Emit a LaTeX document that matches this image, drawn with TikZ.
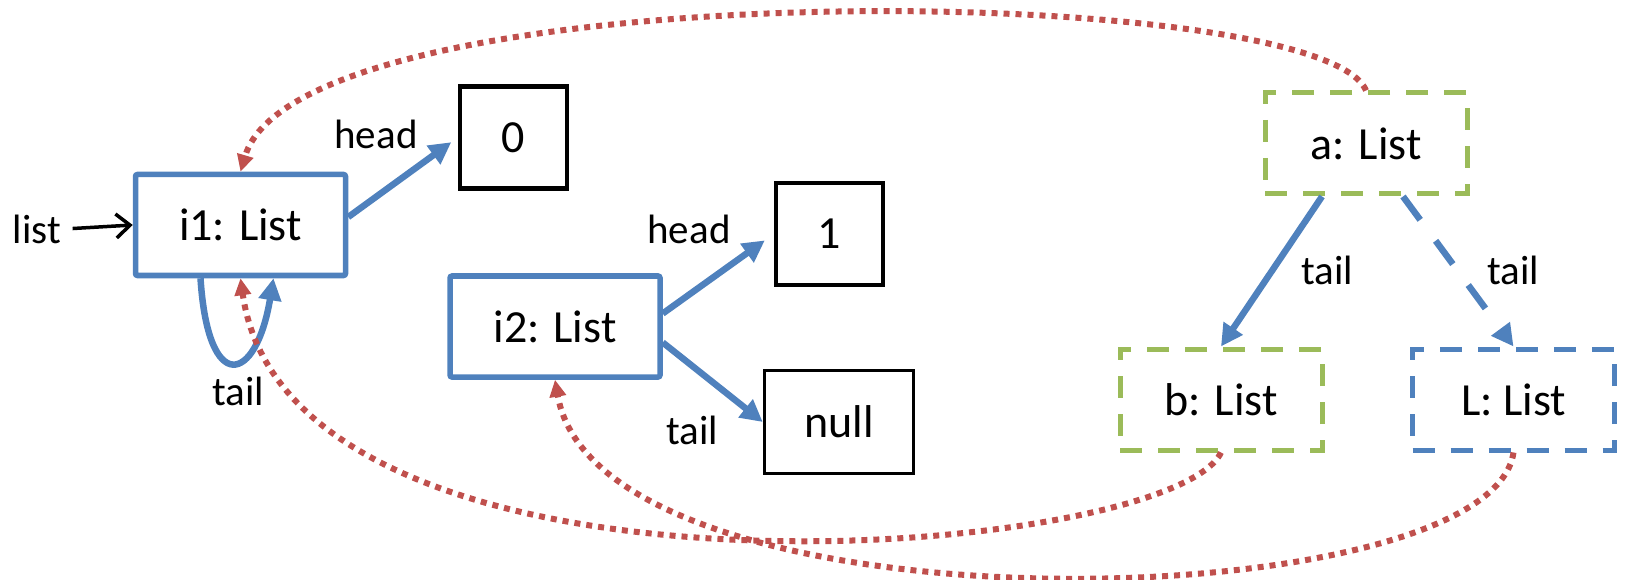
\documentclass[tikz,border=0pt]{standalone}
\usepackage{fontspec}
\setmainfont{Carlito}
\usetikzlibrary{arrows.meta}

\definecolor{ooblue}{RGB}{79,129,189}
\definecolor{oogreen}{RGB}{155,187,89}
\definecolor{oored}{RGB}{192,80,77}

\begin{document}
\begin{tikzpicture}[
    x=1pt, y=-1pt,
    big/.style={font=\fontsize{46}{55}\selectfont},
    lbl/.style={font=\fontsize{41}{49}\selectfont},
    inst/.style={big, draw=ooblue, line width=5.5pt, rounded corners=2pt, minimum width=210pt, minimum height=101pt},
    cell/.style={big, draw, line width=4.5pt, minimum width=107pt, minimum height=102pt},
    view/.style={big, draw=#1, line width=5pt, dash pattern=on 22pt off 16pt, minimum width=202pt, minimum height=101pt},
    ptr/.style={-{Triangle[length=22pt,width=22pt]}, ooblue, line width=6.5pt},
    eqref/.style={-{Triangle[length=17pt,width=16pt]}, oored, line width=6pt, dash pattern=on 6pt off 6pt}
]
\useasboundingbox (0,0) rectangle (1639,580);

% objects
\node[inst] (i1) at (240.5,225) {i1: List};
\node[cell] (zero) at (513.5,137.5) {0};
\node[inst] (i2) at (555,326.5) {i2: List};
\node[cell] (one) at (829.5,234) {1};
\node[cell, line width=3.5pt, minimum width=149pt, minimum height=103pt] (null) at (839,422) {null};

% abstract views
\node[view=oogreen] (a) at (1366,143.5) {a: List};
\node[view=oogreen] (b) at (1221,399.5) {b: List};
\node[view=ooblue] (L) at (1513.5,399.5) {L: List};

% field labels
\node[lbl] (listvar) at (37,229) {list};
\node[lbl] (hd1) at (376,134) {head};
\node[lbl] (tl1) at (238,391) {tail};
\node[lbl] (hd2) at (689,229) {head};
\node[lbl] (tl2) at (692,430) {tail};
\node[lbl] (tla) at (1327,270) {tail};
\node[lbl] (tlb) at (1513,270) {tail};

% fields
\draw[-{Straight Barb[length=14pt,width=24pt]}, line width=3.5pt, shorten <=8pt] (listvar.east) -- (i1.west);
\draw[ptr, shorten >=8pt] ([yshift=8pt]i1.east) -- (zero.west);
\draw[ptr] ([xshift=-40pt]i1.south) .. controls (208,396) and (256,384) .. ([xshift=33pt]i1.south);
\draw[ptr, shorten >=11pt] ([yshift=13pt]i2.east) -- (one.west);
\draw[ptr] ([yshift=-16pt]i2.east) -- (null.west);
\draw[ptr] ([xshift=-44pt]a.south) -- (b.north);
\draw[ptr, dash pattern=on 29pt off 26pt] ([xshift=37pt]a.south) -- (L.north);

% abstraction mapping
\draw[eqref] (a.north) .. controls (1320,-20) and (300,-30) .. (i1.north);
\draw[eqref] (b.south) .. controls (1170,560) and (290,630) .. (i1.south);
\draw[eqref] (L.south) .. controls (1490,620) and (600,640) .. (i2.south);

\end{tikzpicture}
\end{document}
